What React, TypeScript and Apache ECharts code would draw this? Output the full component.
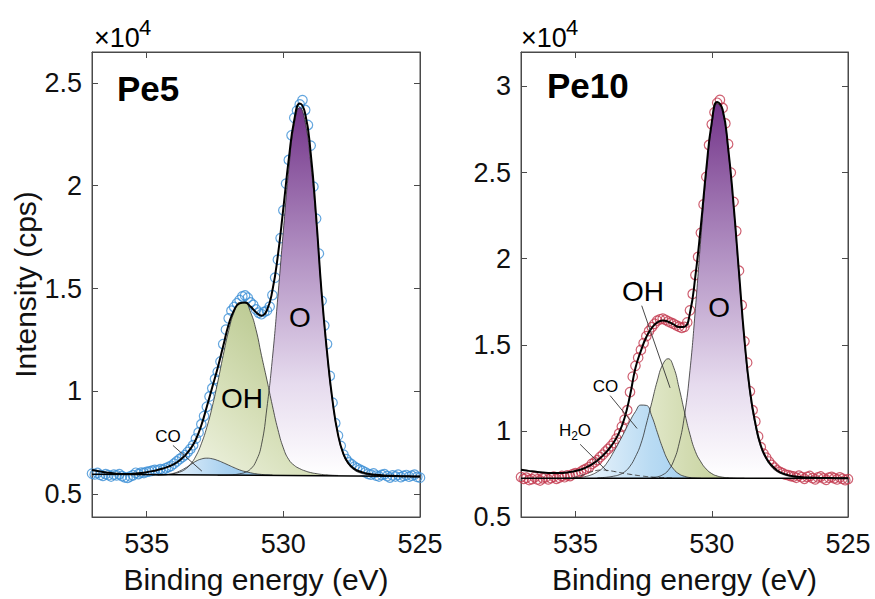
import React, { useEffect, useRef } from "react";
import * as echarts from "echarts";

// ---------- data (intensity in units of 10^4 cps) ----------
const energy = [
  537.0, 536.9, 536.8, 536.7, 536.6, 536.5, 536.4, 536.3, 536.2, 536.1,
  536.0, 535.9, 535.8, 535.7, 535.6, 535.5, 535.4, 535.3, 535.2, 535.1,
  535.0, 534.9, 534.8, 534.7, 534.6, 534.5, 534.4, 534.3, 534.2, 534.1,
  534.0, 533.9, 533.8, 533.7, 533.6, 533.5, 533.4, 533.3, 533.2, 533.1,
  533.0, 532.9, 532.8, 532.7, 532.6, 532.5, 532.4, 532.3, 532.2, 532.1,
  532.0, 531.9, 531.8, 531.7, 531.6, 531.5, 531.4, 531.3, 531.2, 531.1,
  531.0, 530.9, 530.8, 530.7, 530.6, 530.5, 530.4, 530.3, 530.2, 530.1,
  530.0, 529.9, 529.8, 529.7, 529.6, 529.5, 529.4, 529.3, 529.2, 529.1,
  529.0, 528.9, 528.8, 528.7, 528.6, 528.5, 528.4, 528.3, 528.2, 528.1,
  528.0, 527.9, 527.8, 527.7, 527.6, 527.5, 527.4, 527.3, 527.2, 527.1,
  527.0, 526.9, 526.8, 526.7, 526.6, 526.5, 526.4, 526.3, 526.2, 526.1,
  526.0, 525.9, 525.8, 525.7, 525.6, 525.5, 525.4, 525.3, 525.2, 525.1,
  525.0,
];

const pe5Counts = [
  0.600, 0.596, 0.603, 0.594, 0.589, 0.597, 0.593, 0.586, 0.595, 0.591,
  0.597, 0.588, 0.582, 0.579, 0.586, 0.592, 0.604, 0.598, 0.605, 0.603,
  0.608, 0.611, 0.614, 0.618, 0.616, 0.622, 0.619, 0.626, 0.632, 0.638,
  0.648, 0.659, 0.670, 0.680, 0.690, 0.705, 0.720, 0.738, 0.770, 0.800,
  0.840, 0.880, 0.925, 0.975, 1.015, 1.060, 1.095, 1.145, 1.230, 1.300,
  1.355, 1.392, 1.410, 1.428, 1.444, 1.462, 1.466, 1.455, 1.432, 1.420,
  1.398, 1.382, 1.375, 1.386, 1.392, 1.412, 1.468, 1.553, 1.640, 1.745,
  1.880, 2.010, 2.125, 2.245, 2.330, 2.365, 2.395, 2.416, 2.368, 2.295,
  2.195, 1.995, 1.840, 1.670, 1.440, 1.320, 1.230, 1.075, 0.945, 0.845,
  0.785, 0.735, 0.692, 0.670, 0.654, 0.645, 0.634, 0.626, 0.619, 0.613,
  0.606, 0.599, 0.595, 0.601, 0.590, 0.586, 0.594, 0.597, 0.588, 0.581,
  0.591, 0.586, 0.595, 0.583, 0.589, 0.593, 0.585, 0.590, 0.595, 0.584,
  0.580,
];

const pe10Counts = [
  0.732, 0.722, 0.728, 0.715, 0.720, 0.731, 0.718, 0.712, 0.725, 0.730,
  0.719, 0.726, 0.734, 0.722, 0.728, 0.738, 0.731, 0.742, 0.738, 0.749,
  0.755, 0.752, 0.764, 0.773, 0.781, 0.790, 0.808, 0.818, 0.830, 0.848,
  0.862, 0.880, 0.895, 0.912, 0.930, 0.955, 0.985, 1.025, 1.065, 1.120,
  1.225, 1.315, 1.378, 1.425, 1.470, 1.510, 1.550, 1.580, 1.602, 1.622,
  1.640, 1.648, 1.652, 1.645, 1.636, 1.628, 1.622, 1.612, 1.605, 1.598,
  1.604, 1.630, 1.700, 1.795, 1.905, 2.010, 2.150, 2.315, 2.475, 2.660,
  2.780, 2.850, 2.905, 2.922, 2.875, 2.785, 2.665, 2.500, 2.330, 2.160,
  1.930, 1.730, 1.520, 1.396, 1.230, 1.120, 1.055, 0.968, 0.905, 0.868,
  0.845, 0.822, 0.802, 0.786, 0.770, 0.762, 0.754, 0.746, 0.743, 0.738,
  0.735, 0.728, 0.740, 0.731, 0.722, 0.733, 0.738, 0.726, 0.719, 0.730,
  0.735, 0.724, 0.716, 0.728, 0.733, 0.725, 0.718, 0.730, 0.722, 0.714,
  0.720,
];

// fitted envelopes [E, I]
const pe5Envelope = [
  [537.0, 0.618], [536.8, 0.613], [536.6, 0.608], [536.4, 0.604], [536.2, 0.601],
  [536.0, 0.599], [535.8, 0.598], [535.6, 0.598], [535.4, 0.600], [535.2, 0.603],
  [535.0, 0.607], [534.8, 0.612], [534.6, 0.618], [534.4, 0.625], [534.2, 0.634],
  [534.0, 0.646], [533.8, 0.664], [533.6, 0.688], [533.4, 0.720], [533.2, 0.766],
  [533.0, 0.835], [532.8, 0.925], [532.6, 1.020], [532.4, 1.115], [532.2, 1.220],
  [532.0, 1.325], [531.8, 1.395], [531.6, 1.428], [531.4, 1.432], [531.2, 1.412],
  [531.0, 1.385], [530.8, 1.368], [530.6, 1.395], [530.4, 1.490], [530.2, 1.660],
  [530.0, 1.890], [529.8, 2.130], [529.6, 2.320], [529.4, 2.400], [529.2, 2.350],
  [529.0, 2.160], [528.8, 1.850], [528.6, 1.480], [528.4, 1.190], [528.2, 0.955],
  [528.0, 0.790], [527.8, 0.695], [527.6, 0.647], [527.4, 0.623], [527.2, 0.610],
  [527.0, 0.602], [526.8, 0.597], [526.6, 0.594], [526.4, 0.592], [526.2, 0.590],
  [526.0, 0.589], [525.8, 0.588], [525.6, 0.587], [525.4, 0.587], [525.2, 0.586],
  [525.0, 0.586],
];

const pe10Envelope = [
  [537.0, 0.775], [536.8, 0.770], [536.6, 0.765], [536.4, 0.761], [536.2, 0.758],
  [536.0, 0.756], [535.8, 0.755], [535.6, 0.755], [535.4, 0.757], [535.2, 0.761],
  [535.0, 0.767], [534.8, 0.776], [534.6, 0.789], [534.4, 0.806], [534.2, 0.828],
  [534.0, 0.856], [533.8, 0.890], [533.6, 0.933], [533.4, 0.990], [533.2, 1.075],
  [533.0, 1.205], [532.8, 1.365], [532.6, 1.465], [532.4, 1.545], [532.2, 1.598],
  [532.0, 1.630], [531.8, 1.641], [531.6, 1.634], [531.4, 1.618], [531.2, 1.603],
  [531.0, 1.605], [530.8, 1.685], [530.6, 1.900], [530.4, 2.190], [530.2, 2.520],
  [530.0, 2.790], [529.8, 2.910], [529.6, 2.865], [529.4, 2.645], [529.2, 2.315],
  [529.0, 1.920], [528.8, 1.530], [528.6, 1.235], [528.4, 1.045], [528.2, 0.915],
  [528.0, 0.843], [527.8, 0.799], [527.6, 0.770], [527.4, 0.753], [527.2, 0.743],
  [527.0, 0.737], [526.8, 0.733], [526.6, 0.730], [526.4, 0.729], [526.2, 0.728],
  [526.0, 0.727], [525.8, 0.726], [525.6, 0.726], [525.4, 0.725], [525.2, 0.725],
  [525.0, 0.725],
];

// backgrounds
const pe5Baseline = [[537.0, 0.597], [525.0, 0.586]];
const pe10Baseline = [[537.0, 0.725], [525.0, 0.725]];
const pe5BaseLevel = 0.592;
const pe10BaseLevel = 0.725;

// Pe5 components
const pe5O = [
  [532.4, 0.591], [532.2, 0.592], [532.0, 0.593], [531.8, 0.595], [531.6, 0.599],
  [531.4, 0.606], [531.2, 0.622], [531.0, 0.660], [530.8, 0.740], [530.6, 0.920],
  [530.4, 1.160], [530.2, 1.460], [530.0, 1.780], [529.8, 2.080], [529.6, 2.300],
  [529.4, 2.380], [529.2, 2.310], [529.0, 2.110], [528.8, 1.830], [528.6, 1.480],
  [528.4, 1.180], [528.2, 0.950], [528.0, 0.790], [527.8, 0.692], [527.6, 0.643],
  [527.4, 0.617], [527.2, 0.604], [527.0, 0.597], [526.8, 0.593], [526.6, 0.591],
  [526.4, 0.590],
];
const pe5OH = [
  [534.8, 0.592], [534.6, 0.593], [534.4, 0.594], [534.2, 0.596], [534.0, 0.600],
  [533.8, 0.607], [533.6, 0.620], [533.4, 0.645], [533.2, 0.685], [533.0, 0.745],
  [532.8, 0.825], [532.6, 0.925], [532.4, 1.045], [532.2, 1.175], [532.0, 1.295],
  [531.8, 1.385], [531.6, 1.432], [531.4, 1.430], [531.2, 1.385], [531.0, 1.300],
  [530.8, 1.175], [530.6, 1.055], [530.4, 0.930], [530.2, 0.815], [530.0, 0.725],
  [529.8, 0.668], [529.6, 0.640], [529.4, 0.624], [529.2, 0.613], [529.0, 0.605],
  [528.8, 0.600], [528.6, 0.596], [528.4, 0.594], [528.2, 0.592], [528.0, 0.591],
];
const pe5CO = [
  [534.6, 0.592], [534.4, 0.593], [534.2, 0.596], [534.0, 0.602], [533.8, 0.612],
  [533.6, 0.626], [533.4, 0.643], [533.2, 0.660], [533.0, 0.671], [532.8, 0.675],
  [532.6, 0.672], [532.4, 0.664], [532.2, 0.653], [532.0, 0.641], [531.8, 0.629],
  [531.6, 0.618], [531.4, 0.610], [531.2, 0.604], [531.0, 0.599], [530.8, 0.596],
  [530.6, 0.594], [530.4, 0.593],
];

// Pe10 components
const pe10O = [
  [532.2, 0.728], [532.0, 0.733], [531.8, 0.745], [531.6, 0.770], [531.4, 0.825],
  [531.2, 0.925], [531.0, 1.090], [530.8, 1.350], [530.6, 1.710], [530.4, 2.120],
  [530.2, 2.500], [530.0, 2.770], [529.8, 2.900], [529.6, 2.850], [529.4, 2.630],
  [529.2, 2.300], [529.0, 1.900], [528.8, 1.515], [528.6, 1.220], [528.4, 1.030],
  [528.2, 0.905], [528.0, 0.835], [527.8, 0.790], [527.6, 0.763], [527.4, 0.748],
  [527.2, 0.738], [527.0, 0.732], [526.8, 0.728], [526.6, 0.726],
];
const pe10OH = [
  [534.2, 0.727], [534.0, 0.729], [533.8, 0.732], [533.6, 0.737], [533.4, 0.745],
  [533.2, 0.762], [533.0, 0.795], [532.8, 0.850], [532.6, 0.925], [532.4, 1.040],
  [532.2, 1.165], [532.0, 1.290], [531.8, 1.385], [531.6, 1.419], [531.4, 1.370],
  [531.2, 1.250], [531.0, 1.110], [530.8, 0.980], [530.6, 0.880], [530.4, 0.820],
  [530.2, 0.778], [530.0, 0.752], [529.8, 0.738], [529.6, 0.731], [529.4, 0.728],
  [529.2, 0.726], [529.0, 0.725], [528.8, 0.725],
];
const pe10CO = [
  [535.0, 0.727], [534.8, 0.730], [534.6, 0.736], [534.4, 0.746], [534.2, 0.762],
  [534.0, 0.785], [533.8, 0.825], [533.6, 0.878], [533.4, 0.935], [533.2, 0.995],
  [533.0, 1.058], [532.8, 1.112], [532.6, 1.150], [532.4, 1.148], [532.2, 1.085],
  [532.0, 0.992], [531.8, 0.900], [531.6, 0.826], [531.4, 0.778], [531.2, 0.750],
  [531.0, 0.736], [530.8, 0.729], [530.6, 0.726], [530.4, 0.725],
];
const pe10H2O = [
  [535.4, 0.726], [535.2, 0.728], [535.0, 0.732], [534.8, 0.740], [534.6, 0.751],
  [534.4, 0.763], [534.2, 0.771], [534.0, 0.773], [533.8, 0.770], [533.6, 0.765],
  [533.4, 0.759], [533.2, 0.753], [533.0, 0.748], [532.8, 0.743], [532.6, 0.739],
  [532.4, 0.735], [532.2, 0.732], [532.0, 0.730], [531.8, 0.728], [531.6, 0.727],
  [531.4, 0.726],
];

// axis ticks
const xTicks = [535, 530, 525];
const pe5YTicks = [0.5, 1, 1.5, 2, 2.5];
const pe10YTicks = [0.5, 1, 1.5, 2, 2.5, 3];
const xRange = [525, 537];
const pe5YRange = [0.389, 2.65];
const pe10YRange = [0.5, 3.2];

// ---------- styling ----------
const FONT = "'Liberation Sans', Arial, Helvetica, sans-serif";
const AX = "#4a4a4a";
const TXT = "#111111";

function grad(x: number, y: number, x2: number, y2: number, stops: [number, string][]) {
  return new echarts.graphic.LinearGradient(
    x, y, x2, y2, stops.map(([offset, color]) => ({ offset, color }))
  );
}

function xAxes(gridIndex: number) {
  const common = {
    type: "value", gridIndex, min: xRange[0], max: xRange[1], inverse: true,
    splitLine: { show: false },
    axisLine: { show: true, onZero: false, lineStyle: { color: AX, width: 1 } },
    axisTick: { show: true, inside: true, length: 6, customValues: xTicks, lineStyle: { color: AX, width: 1 } },
  };
  return [
    {
      ...common, position: "bottom",
      axisLabel: { show: true, customValues: xTicks, fontSize: 27, color: TXT, fontFamily: FONT, margin: 13 },
      name: "Binding energy (eV)", nameLocation: "middle", nameGap: 47,
      nameTextStyle: { fontSize: 30, color: TXT, fontFamily: FONT },
    },
    { ...common, position: "top", axisLabel: { show: false } },
  ];
}

function yAxes(gridIndex: number, range: number[], ticks: number[], withName: boolean) {
  const common = {
    type: "value", gridIndex, min: range[0], max: range[1],
    splitLine: { show: false },
    axisLine: { show: true, onZero: false, lineStyle: { color: AX, width: 1 } },
    axisTick: { show: true, inside: true, length: 6, customValues: ticks, lineStyle: { color: AX, width: 1 } },
  };
  return [
    {
      ...common, position: "left",
      axisLabel: { show: true, customValues: ticks, fontSize: 27, color: TXT, fontFamily: FONT, margin: 10 },
      name: withName ? "Intensity (cps)" : "", nameLocation: "middle", nameGap: 45,
      nameTextStyle: { fontSize: 30, color: TXT, fontFamily: FONT },
    },
    { ...common, position: "right", axisLabel: { show: false } },
  ];
}

function area(ax: number, data: number[][], origin: number, color: any) {
  return {
    type: "line", xAxisIndex: ax, yAxisIndex: ax, data, smooth: true, symbol: "none", silent: true,
    lineStyle: { color: "#2e2e2e", width: 0.8 },
    areaStyle: { origin, color, opacity: 1 },
  };
}
function plainLine(ax: number, data: number[][], width: number, extra: any = {}) {
  return {
    type: "line", xAxisIndex: ax, yAxisIndex: ax, data, smooth: true, symbol: "none", silent: true,
    lineStyle: { color: "#000", width, ...extra },
  };
}
function points(ax: number, values: number[], color: string) {
  return {
    type: "scatter", xAxisIndex: ax, yAxisIndex: ax, silent: true,
    data: energy.map((e, i) => [e, values[i]]),
    symbol: "circle", symbolSize: 9.5,
    itemStyle: { color: "rgba(255,255,255,0)", borderColor: color, borderWidth: 1.2 },
  };
}

const oGrad = () => grad(0, 0, 0, 1, [[0, "#74358a"], [0.4, "#b190c2"], [0.75, "#e6dbee"], [1, "#ffffff"]]);

// annotation anchors (data coordinates)
const pe5Notes = [
  { text: "O", at: [529.39, 1.36], size: 28 },
  { text: "OH", at: [531.51, 0.965], size: 28 },
  { text: "CO", at: [534.22, 0.781], size: 17 },
];
const pe5Leaders = [[[534.04, 0.737], [532.98, 0.612]]];
const pe10Notes = [
  { text: "O", at: [529.73, 1.714], size: 28 },
  { text: "OH", at: [532.52, 1.812], size: 28 },
  { text: "CO", at: [533.9, 1.257], size: 17 },
];
const pe10H2OAt = [535.02, 1.003];
const pe10Leaders = [
  [[532.57, 1.727], [531.53, 1.25]],
  [[533.73, 1.205], [532.74, 1.014]],
  [[534.83, 0.922], [533.84, 0.766]],
];

export default function App() {
  const ref = useRef<HTMLDivElement>(null);
  useEffect(() => {
    document.body.style.margin = "0";
    const chart = echarts.init(ref.current!, null, { renderer: "svg" });
    const series: any[] = [
      area(0, pe5O, pe5BaseLevel, oGrad()),
      area(0, pe5OH, pe5BaseLevel, grad(1, 0, 0, 1, [[0, "#a9bb78"], [0.55, "#d6dfb8"], [1, "#f8faf1"]])),
      area(0, pe5CO, pe5BaseLevel, grad(0, 0, 1, 0, [[0, "#f3f8fd"], [0.6, "#a9d1f0"], [1, "#8cc2ea"]])),
      plainLine(0, pe5Baseline, 1.5),
      points(0, pe5Counts, "#3b8fd6"),
      plainLine(0, pe5Envelope, 2),
      area(2, pe10O, pe10BaseLevel, oGrad()),
      area(2, pe10OH, pe10BaseLevel, grad(0, 0, 1, 0, [[0, "#f4f7e8"], [0.6, "#d3dcb2"], [1, "#bfcd92"]])),
      area(2, pe10CO, pe10BaseLevel, grad(0, 0, 1, 0, [[0, "#f1f7fc"], [0.6, "#b9dbf3"], [1, "#9fcdef"]])),
      plainLine(2, pe10H2O, 1, { type: [5, 3], color: "#444" }),
      plainLine(2, pe10Baseline, 1.5),
      points(2, pe10Counts, "#c3394f"),
      plainLine(2, pe10Envelope, 2),
    ];
    const option: any = {
      animation: false,
      backgroundColor: "#ffffff",
      textStyle: { fontFamily: FONT },
      grid: [
        { left: 92, top: 52, width: 328, height: 467, show: true, borderColor: AX, borderWidth: 1, backgroundColor: "transparent" },
        { left: 521, top: 52, width: 327, height: 467, show: true, borderColor: AX, borderWidth: 1, backgroundColor: "transparent" },
      ],
      xAxis: [...xAxes(0), ...xAxes(1)],
      yAxis: [...yAxes(0, pe5YRange, pe5YTicks, true), ...yAxes(1, pe10YRange, pe10YTicks, false)],
      series,
    };
    chart.setOption(option);

    const px = (si: number, p: number[]) => chart.convertToPixel({ seriesIndex: si }, p) as number[];
    const g: any[] = [];
    const addText = (x: number, y: number, text: string, size: number, weight = "normal", align = "center") =>
      g.push({
        type: "text", x, y, z: 100, silent: true,
        style: { text, fontSize: size, fontFamily: FONT, fontWeight: weight, fill: "#000", align, verticalAlign: "middle" },
      });
    const addLine = (a: number[], b: number[]) =>
      g.push({ type: "line", z: 100, silent: true, shape: { x1: a[0], y1: a[1], x2: b[0], y2: b[1] }, style: { stroke: "#333", lineWidth: 0.9 } });

    pe5Notes.forEach((n) => { const p = px(0, n.at); addText(p[0], p[1], n.text, n.size); });
    pe5Leaders.forEach(([a, b]) => addLine(px(0, a), px(0, b)));
    pe10Notes.forEach((n) => { const p = px(6, n.at); addText(p[0], p[1], n.text, n.size); });
    pe10Leaders.forEach(([a, b]) => addLine(px(6, a), px(6, b)));
    const h = px(6, pe10H2OAt);
    addText(h[0] - 16, h[1], "H", 17, "normal", "left");
    addText(h[0] - 3.8, h[1] + 6, "2", 12, "normal", "left");
    addText(h[0] + 2.9, h[1], "O", 17, "normal", "left");

    // panel titles and exponent labels
    addText(117, 88, "Pe5", 35, "bold", "left");
    addText(547, 85, "Pe10", 35, "bold", "left");
    addText(94, 38, "×10", 27, "normal", "left");
    addText(139, 27, "4", 22, "normal", "left");
    addText(521, 38, "×10", 27, "normal", "left");
    addText(566, 27, "4", 22, "normal", "left");

    chart.setOption({ graphic: g });
    return () => chart.dispose();
  }, []);
  return <div ref={ref} style={{ position: "absolute", left: 0, top: 0, width: 875, height: 599 }} />;
}
